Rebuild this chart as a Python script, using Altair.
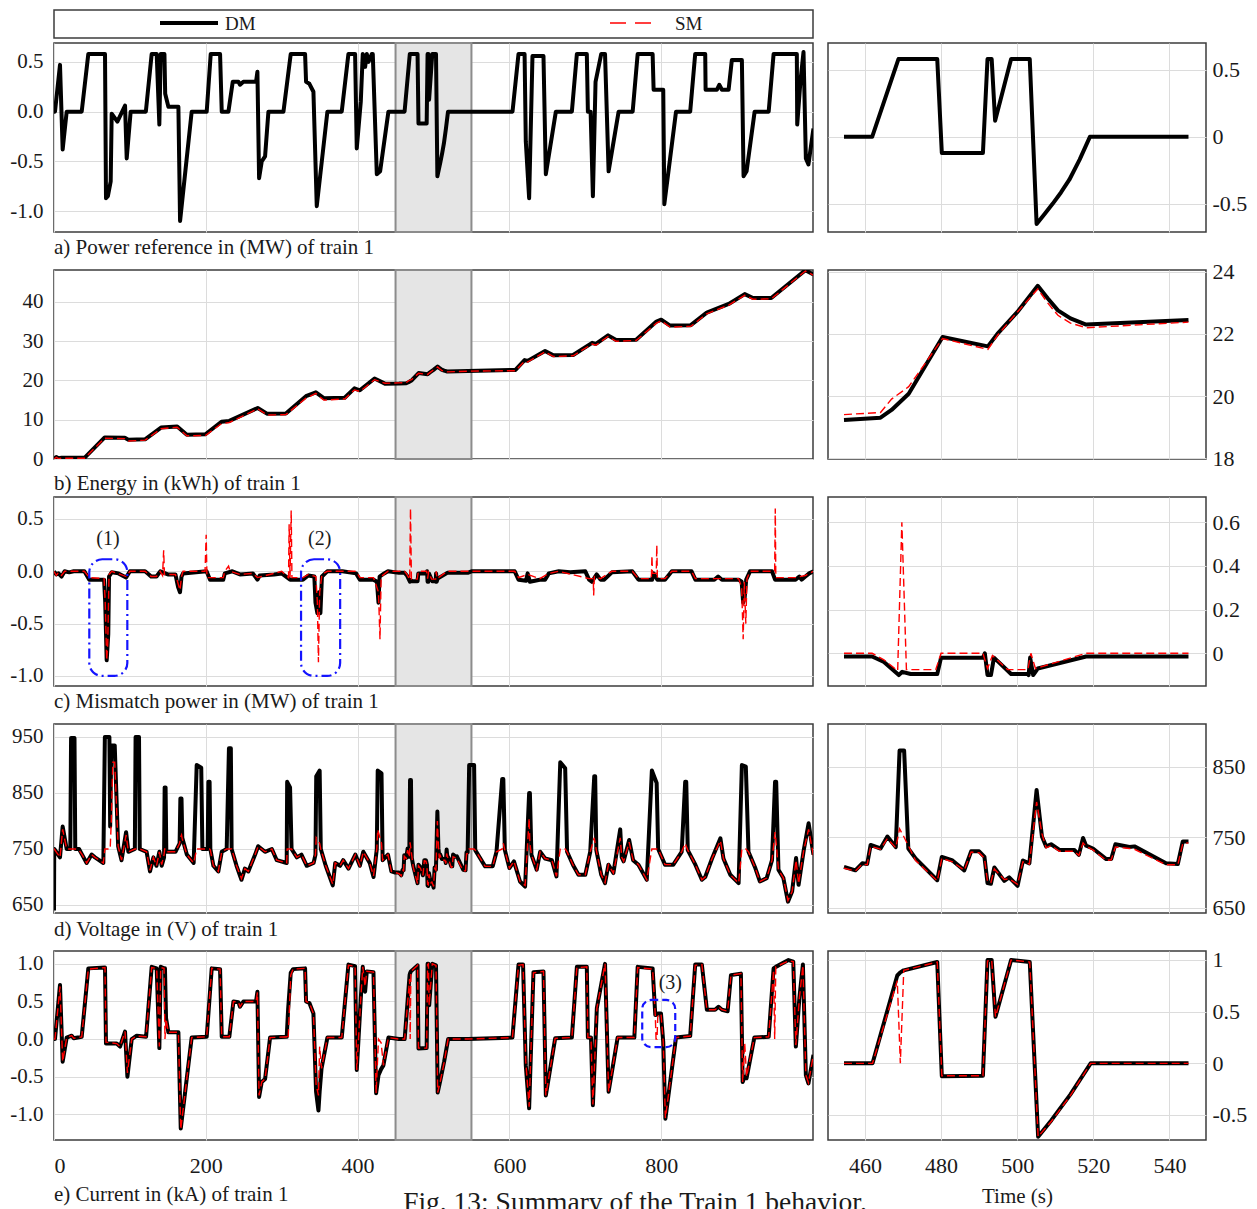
import altair as alt
import pandas as pd

FONT = "Liberation Serif"
TXT = "#1a1a1a"
GRID = "#dcdcdc"
MINUS_FIX = "replace(datum.label, '\u2212', '-')"

LW, RW, H = 759, 378, 189
XL_DOM, XR_DOM = [0, 1000], [450.3, 549.6]
XL_TICKS = [0, 200, 400, 600, 800]
XR_TICKS = [460, 480, 500, 520, 540]
RIGHT_FILTER = "datum.t >= 454 && datum.t <= 545.5"

# ---------------- grey zoom window ----------------
box_start = [450]
box_end = [550]

# ---------------- a) power reference (MW) ----------------
a_t = [0, 1.3, 7.9, 11.4, 16.7, 36.5, 45.2, 67.2, 68.5, 71,
       74.7, 76, 83.5, 93.6, 95.8, 101, 121, 128.7, 135.3, 138.8,
       140.6, 145.5, 146.5, 150.7, 163.9, 166.1, 181.4, 201.2, 206.5, 218.8,
       221, 229.8, 235.5, 243, 245.1, 249.5, 266.2, 268, 270.2, 273.7,
       278.1, 282.5, 302.3, 311.9, 330.8, 332.1, 336.5, 341.8, 346.2, 360.2,
       379.1, 387.9, 396.7, 398.9, 404.2, 406.8, 409.9, 412.1, 414.3, 418.7,
       420, 425.3, 429.7, 440.6, 454.5, 461.9, 468.8, 479, 480.2, 491,
       492.2, 493.3, 494.2, 498.4, 503.3, 505.1, 507.2, 509.3, 511.5, 513.7,
       516.4, 519.1, 545,
       604.1, 612, 620, 621.6, 626, 630.4, 644.9, 648, 661.2, 682.3,
       688.9, 702, 703.4, 707, 710, 713.5, 721, 726, 730.7, 743.9,
       762.4, 769, 788.7, 790, 802.7, 804.1, 819.5, 838.2, 844.8, 858,
       858.5, 873.3, 876.5, 880, 888.8, 893.1, 906.3, 908.5, 912.5, 923.1,
       941.6, 948.1, 978.7, 979.2, 983.4, 987.5, 990.6, 994, 1000.6]
a_dm = [0, 0, 0.47, -0.38, 0, 0, 0.58, 0.58, -0.87, -0.85,
        -0.7, -0.02, -0.1, 0.06, -0.47, 0, 0, 0.58, 0.58, -0.13,
        0.58, 0.58, 0.18, 0.05, 0.05, -1.1, 0, 0, 0.58, 0.58,
        0, 0, 0.3, 0.3, 0.27, 0.3, 0.3, 0.4, -0.67, -0.5,
        -0.45, 0, 0, 0.58, 0.58, 0.3, 0.28, 0.2, -0.95, 0,
        0, 0.58, 0.58, -0.37, 0.1, 0.58, 0.45, 0.58, 0.5, 0.58,
        0.58, -0.63, -0.6, 0, 0, 0, 0.58, 0.58, -0.12, -0.12,
        0.58, 0.58, 0.12, 0.58, 0.58, -0.65, -0.575, -0.5, -0.415, -0.32,
        -0.17, 0, 0,
        0, 0.58, 0.58, -0.3, -0.87, 0.56, 0.56, -0.63, 0, 0,
        0.58, 0.58, 0, 0, -0.85, 0.3, 0.58, 0.58, -0.6, 0,
        0, 0.58, 0.58, 0.22, 0.22, -0.93, 0, 0, 0.58, 0.58,
        0.22, 0.22, 0.27, 0.22, 0.22, 0.52, 0.52, -0.65, -0.6, 0,
        0, 0.58, 0.58, -0.13, 0.3, 0.6, -0.47, -0.53, -0.17]

# ---------------- b) energy (kWh) ----------------
b_t = [0, 3, 6, 10, 40.2, 66.8, 93.3, 98, 120, 141,
       162.3, 175, 199.5, 220.6, 231, 268.4, 281.1, 305.5, 332, 345,
       355.5, 383, 395.8, 403, 422.3, 436, 454.5, 464.1, 467, 471.5,
       480.4, 492.3, 494.8, 500, 505.4, 508, 510.7, 514, 518.1, 545,
       608, 620, 624, 647, 658, 684, 709, 714, 730, 740.6,
       767, 793.7, 800, 811.7, 839, 860, 889, 910, 921, 945,
       990, 1000.6]
b_dm = [0, 0.5, 0.2, 0.3, 0.3, 5.5, 5.4, 4.9, 5.0, 8.0,
        8.3, 6.2, 6.3, 9.5, 9.7, 13.0, 11.5, 11.6, 16.0, 17.0,
        15.5, 15.6, 18.0, 17.5, 20.5, 19.2, 19.23, 19.3, 19.55, 20.07,
        21.9, 21.6, 22.0, 22.7, 23.55, 23.15, 22.76, 22.5, 22.3, 22.45,
        22.7, 25.2, 25.0, 27.5, 26.4, 26.5, 29.6, 29.3, 31.5, 30.3,
        30.4, 35.0, 35.5, 34.0, 34.1, 37.3, 39.5, 42.0, 41.0, 41.0,
        48.1, 47.0]
b_sm = [0, 0.4, 0.1, 0.2, 0.2, 5.3, 5.2, 4.6, 4.8, 7.7,
        8.1, 5.9, 6.0, 9.0, 9.3, 12.8, 11.2, 11.3, 15.5, 16.7,
        15.0, 15.3, 17.6, 17.2, 20.2, 19.3, 19.4, 19.47, 19.9, 20.3,
        21.85, 21.5, 21.95, 22.7, 23.45, 23.0, 22.6, 22.35, 22.2, 22.38,
        22.5, 24.9, 24.7, 27.3, 26.1, 26.3, 29.3, 29.0, 31.2, 30.0,
        30.2, 34.6, 35.2, 33.6, 33.8, 37.0, 39.2, 41.7, 40.7, 40.8,
        47.9, 46.8]

# ---------------- c) mismatch power (MW) ----------------
c_dm_t = [0, 3, 6, 10, 14, 20, 26, 40, 46.5, 66,
          67.5, 69.4, 71.5, 72.5, 76, 85, 95, 100, 120, 125,
          128, 135, 140, 150, 160, 163.5, 166, 168, 170, 201,
          205.6, 223, 225, 235, 245, 262, 268, 271, 290, 300,
          311, 328, 335, 343, 344.5, 347, 349, 351, 353, 360,
          380, 398, 403, 421, 425.5, 427.5, 429, 435, 440, 454.5,
          461.9, 465, 468.9, 469.8, 472, 479, 480, 491, 491.5, 492.2,
          493.1, 493.9, 498.4, 502.8, 503.0, 503.4, 504.2, 505.4, 518.1, 545,
          550, 607, 612, 622, 624, 627, 640, 647, 652, 665,
          680, 700, 705, 708.6, 715, 720, 725, 735, 762, 770,
          788, 790, 795, 805, 814, 840, 845, 870, 875, 880,
          902, 906, 908, 910, 912, 917, 946, 950, 977, 982,
          985, 990, 995, 1000.6]
c_dm_v = [0, -0.03, -0.02, -0.05, 0, -0.01, 0, 0, -0.08, -0.08,
          -0.3, -0.85, -0.6, -0.05, -0.01, -0.02, -0.06, 0, 0, -0.03,
          -0.05, -0.05, 0, -0.03, -0.03, -0.15, -0.2, -0.05, -0.02, 0,
          -0.08, -0.08, -0.02, 0, -0.03, -0.02, -0.08, -0.04, -0.03, -0.02,
          -0.08, -0.08, -0.04, -0.05, -0.3, -0.4, -0.2, -0.4, -0.05, 0,
          0, -0.02, -0.08, -0.08, -0.1, -0.3, -0.05, -0.02, 0, -0.015,
          -0.015, -0.04, -0.1, -0.085, -0.095, -0.095, -0.02, -0.02, 0.0, -0.1,
          -0.1, -0.02, -0.095, -0.095, -0.1, -0.02, -0.1, -0.07, -0.015, -0.015,
          0, 0, -0.08, -0.09, -0.02, -0.1, -0.08, -0.08, -0.02, 0,
          -0.01, 0, -0.08, -0.1, -0.03, -0.08, -0.08, -0.01, 0, -0.08,
          -0.08, -0.02, -0.08, -0.08, 0, 0, -0.08, -0.08, -0.05, -0.08,
          -0.08, -0.1, -0.3, -0.25, -0.08, 0, 0, -0.08, -0.08, -0.05,
          -0.08, -0.05, -0.02, 0]
c_sm_t = [0, 3, 6, 10, 14, 40, 46.5, 66, 67.5, 69.4,
          70.8, 72.5, 76, 95, 100, 120, 128, 135, 140, 143,
          144.5, 145.5, 160, 166, 168, 170, 199, 200.5, 201.5, 223,
          225, 230, 232, 245, 262, 268, 290, 300, 309, 309.8,
          311, 312.5, 313.5, 328, 335, 345, 347, 348.4, 350, 353,
          360, 398, 403, 421, 427.5, 429.5, 431, 440, 454.5, 461.9,
          465, 468.6, 469.7, 470.9, 478.6, 480, 491, 492.2, 493.5, 497.5,
          502.8, 503.6, 504.8, 518.1, 545, 550, 607, 612, 624, 640,
          652, 665, 705, 710.5, 711, 712, 720, 735, 762, 770,
          787, 787.8, 788.5, 793.5, 794.2, 795, 805, 814, 840, 845,
          902, 906, 908, 909.5, 911.5, 913, 917, 946, 949.5, 950.3,
          951, 977, 990, 1000.6]
c_sm_v = [0, -0.04, -0.01, -0.04, 0, 0, -0.06, -0.07, -0.3, -0.85,
          -0.7, -0.03, 0, -0.05, 0, 0, -0.05, -0.05, 0, -0.04,
          0.2, -0.03, -0.03, -0.18, -0.05, 0, 0, 0.35, -0.06, -0.06,
          0, 0.05, 0, -0.03, -0.02, -0.06, -0.02, 0, -0.06, 0.45,
          -0.06, 0.58, -0.06, -0.06, -0.03, -0.05, -0.3, -0.87, -0.2, -0.03,
          0, 0, -0.06, -0.06, -0.2, -0.65, -0.05, 0, 0, 0,
          -0.03, -0.08, 0.6, -0.075, -0.075, 0, 0, -0.07, -0.01, -0.075,
          -0.075, 0.0, -0.07, 0, 0, 0, 0, -0.06, -0.03, -0.07,
          -0.02, 0, -0.07, -0.07, -0.23, -0.05, -0.07, 0, 0, -0.07,
          -0.07, 0.15, -0.02, -0.02, 0.25, -0.07, -0.07, 0, 0, -0.07,
          -0.07, -0.15, -0.65, -0.1, -0.5, -0.07, 0, 0, 0, 0.6,
          -0.06, -0.06, -0.04, 0]

# annotations (1), (2) in panel c
ann_c_x0 = [46.5, 325.5]
ann_c_x1 = [96.6, 377]
ann_c_y0 = [-1.0, -1.0]
ann_c_y1 = [0.115, 0.115]
ann_c_lbl = ["(1)", "(2)"]
ann_c_lx = [71, 350]
ann_c_ly = [0.31, 0.31]

# ---------------- d) voltage (V) ----------------
d_t = [0, 0.3, 7.9, 11.4, 16.7, 21.5, 22.5, 27, 28, 33,
       37, 43, 49.6, 54, 65, 67, 73, 74, 75.5, 77.5,
       80, 84.5, 89, 95, 98, 106.5, 107.5, 112, 113, 122,
       126.5, 131, 135, 138.8, 141.9, 145, 145.8, 147, 148, 160,
       165.5, 166.5, 168, 169, 175, 184, 188, 194, 195.5, 202.5,
       203.4, 205, 206, 210, 216.5, 221, 227.5, 230.5, 233, 234,
       240.5, 247, 251.5, 256, 260.5, 265, 269, 278, 287, 293.5,
       306.6, 307.2, 311, 313, 320, 326, 333, 342, 344.5, 345.5,
       350, 351.5, 358, 367.3, 370.5, 377, 381, 388, 397, 403,
       407.5, 416, 421, 425.3, 426.5, 431.5, 433, 440, 444.5, 449.4,
       454.5, 457.5, 459.3, 460.6, 461.5, 464.1, 465.9, 468.1, 469.1, 470.3,
       471.4, 473.3, 479, 480.2, 483, 486.1, 487.9, 490, 491.4, 492.2,
       493.1, 494, 496.6, 497.9, 500.1, 501.5, 503.2, 505.1, 506.5, 507.6,
       508.9, 511.1, 515, 516.2, 517.3, 518.1, 519.9, 523.4, 524.7, 525.8,
       529.5, 530.8, 539.1, 542.2, 543.5, 545, 547, 553.5, 555, 568,
       578, 583, 590.5, 592, 594, 600, 606, 614, 620.7, 626,
       627, 629, 636, 640.5, 647, 656, 662, 667, 673.5, 676,
       684, 691, 700, 706.5, 711.8, 713, 714.5, 721, 726, 730.5,
       737, 746, 748, 750.5, 757.8, 763, 770, 781, 787.7, 794,
       796, 805, 816, 827, 831.6, 833, 835, 845, 853.6, 858,
       867, 878, 882, 891, 902, 906.3, 911.5, 915, 924, 930,
       939, 946, 950, 951.5, 954.5, 961, 967, 972.5, 977.7, 981,
       987.8, 994.2, 1000.6]
d_dm = [640, 750, 735, 790, 750, 750, 948, 948, 750, 750,
        740, 725, 740, 735, 725, 950, 950, 790, 935, 935,
        935, 755, 730, 780, 745, 750, 950, 950, 750, 745,
        710, 735, 720, 745, 720, 735, 860, 860, 745, 745,
        760, 840, 840, 770, 740, 725, 900, 895, 750, 750,
        870, 870, 750, 720, 710, 745, 750, 930, 930, 750,
        720, 695, 715, 710, 725, 740, 755, 745, 750, 730,
        725, 870, 860, 750, 735, 740, 720, 725, 740, 880,
        890, 750, 720, 685, 725, 720, 730, 715, 740, 720,
        745, 725, 700, 750, 890, 885, 730, 740, 710, 708,
        708, 703, 713, 712, 739, 734, 751, 736, 873, 873,
        734, 720, 689, 722, 717, 703, 730, 730, 722, 685,
        684, 707, 688, 693, 681, 717, 713, 817, 751, 737,
        740, 732, 732, 725, 749, 738, 734, 719, 719, 740,
        736, 737, 713, 712, 744, 744, 900, 900, 748, 719,
        719, 745, 875, 875, 748, 716, 728, 692, 683, 850,
        850, 740, 713, 745, 733, 730, 701, 905, 894, 745,
        721, 704, 704, 745, 880, 880, 748, 704, 689, 722,
        707, 785, 735, 728, 766, 730, 722, 695, 890, 868,
        750, 722, 722, 745, 870, 870, 748, 722, 695, 700,
        733, 769, 733, 704, 689, 900, 897, 745, 716, 692,
        698, 730, 870, 870, 713, 698, 656, 674, 734, 686,
        748, 796, 740]
d_sm = [750, 750, 735, 785, 750, 750, 750, 750, 750, 748,
        740, 725, 740, 735, 725, 750, 750, 750, 800, 905,
        905, 755, 730, 775, 745, 750, 750, 750, 750, 745,
        712, 735, 720, 745, 722, 740, 750, 750, 745, 745,
        760, 770, 775, 768, 740, 725, 750, 750, 750, 750,
        750, 750, 748, 720, 710, 745, 750, 750, 750, 750,
        720, 697, 715, 710, 725, 740, 755, 745, 750, 730,
        725, 750, 750, 750, 735, 740, 720, 725, 740, 770,
        760, 750, 720, 687, 725, 720, 730, 715, 740, 720,
        745, 725, 702, 750, 785, 760, 730, 740, 710, 708,
        706, 702, 712, 711, 737, 733, 748, 735, 762, 750,
        738, 717, 688, 720, 715, 703, 729, 728, 720, 687,
        686, 705, 690, 691, 683, 715, 712, 800, 755, 735,
        738, 730, 730, 724, 742, 737, 732, 717, 718, 736,
        734, 733, 711, 711, 741, 742, 750, 750, 748, 719,
        719, 745, 750, 760, 748, 716, 728, 692, 685, 805,
        760, 740, 713, 745, 733, 730, 701, 750, 750, 745,
        721, 704, 704, 745, 770, 760, 748, 704, 690, 722,
        707, 770, 735, 728, 762, 730, 722, 695, 750, 750,
        750, 722, 722, 745, 760, 755, 748, 722, 695, 700,
        733, 765, 733, 704, 689, 750, 750, 745, 716, 692,
        698, 730, 780, 760, 713, 698, 658, 674, 730, 688,
        748, 785, 738]

# ---------------- e) current (kA) ----------------
e_t = [0, 1.3, 7.9, 11.4, 16.7, 23.3, 26, 36.5, 45.2, 67.2,
       68.5, 82.6, 87, 93.6, 96.7, 102.4, 109, 121.3, 128.7, 135.3,
       138.8, 140.6, 145, 146.2, 147.6, 150.7, 163.9, 167, 181.4, 201.2,
       207.8, 218.8, 221, 231, 236.4, 243, 245.1, 249.5, 266.2, 268,
       270.2, 273.7, 278.1, 284.7, 306.6, 308.5, 311.9, 315, 330.8, 332.1,
       336.5, 341.8, 345.3, 348.4, 350, 352.5, 360.2, 379.1, 387.9, 396.7,
       398.9, 404.2, 406.8, 409.9, 412.1, 420.9, 424.4, 427.5, 431, 434,
       440.6, 454.5, 462, 468.5, 469.3, 470.2, 479, 480.2, 491, 492.2,
       493.3, 494.3, 498.4, 503.3, 505.5, 509, 514, 519.3, 545, 604,
       612, 618, 621.6, 626, 631.7, 644.9, 648, 660.3, 682.3, 688.9,
       702, 703.4, 707.5, 710, 715.2, 726, 730.7, 742.6, 764.6, 769,
       788.7, 792.2, 793.2, 794.5, 795.5, 799.7, 802.7, 805.5, 819.5, 838.2,
       844.8, 853.6, 860.2, 871, 875.5, 880, 887.5, 891.9, 905, 907.3,
       910, 912.5, 922.7, 941.6, 948.1, 949.5, 951, 967.7, 974, 977.4,
       982, 986.7, 990.6, 994, 1000.6]
e_dm = [0, 0, 0.72, -0.3, 0.02, 0.045, 0.01, 0.03, 0.94, 0.95,
        -0.06, -0.06, -0.1, 0.1, -0.5, 0, 0.045, 0.03, 0.96, 0.94,
        -0.12, 0.96, 0.94, 0.94, 0.28, 0.09, 0.09, -1.19, 0.02, 0.03,
        0.94, 0.93, 0.03, 0.03, 0.5, 0.49, 0.43, 0.5, 0.5, 0.63,
        -0.77, -0.57, -0.53, 0.02, 0.03, 0.4, 0.88, 0.93, 0.94, 0.5,
        0.48, 0.34, -0.7, -0.95, -0.7, -0.39, 0.02, 0.02, 0.99, 0.97,
        -0.41, 0.54, 0.96, 0.63, 0.9, 0.89, -0.72, -0.48, -0.4, -0.35,
        0.02, 0.0, 0.0, 0.85, 0.88, 0.9, 0.98, -0.125, -0.12, 1.0,
        1.0, 0.45, 1.0, 0.98, -0.71, -0.55, -0.3, 0.0, 0.0, 0.02,
        0.99, 0.99, -0.35, -0.92, 0.89, 0.9, -0.75, 0.01, 0.02, 0.96,
        0.96, 0.02, 0.02, -0.88, 0.41, 1.0, -0.7, 0.02, 0.02, 0.96,
        0.94, 0.32, 0.32, 0.33, 0.34, 0.34, -0.04, -1.06, 0.02, 0.04,
        0.99, 0.99, 0.39, 0.39, 0.43, 0.39, 0.37, 0.85, 0.87, -0.57,
        -0.5, -0.52, 0.02, 0.03, 0.94, 0.95, 0.96, 1.05, 1.03, -0.1,
        0.54, 0.99, -0.48, -0.59, -0.21]
e_sm = [0, 0, 0.7, -0.3, 0.02, 0.045, 0.01, 0.03, 0.93, 0.95,
        -0.04, -0.06, -0.1, 0.1, -0.45, 0, 0.04, 0.03, 0.95, 0.94,
        -0.1, 0.95, 0.94, 0.0, 0.27, 0.09, 0.09, -1.2, 0.02, 0.03,
        0.94, 0.93, 0.03, 0.03, 0.5, 0.49, 0.43, 0.5, 0.5, 0.62,
        -0.75, -0.57, -0.53, 0.02, 0.03, 0.0, 0.85, 0.93, 0.94, 0.5,
        0.48, 0.34, -0.6, -0.75, -0.1, -0.39, 0.02, 0.02, 0.98, 0.97,
        -0.41, 0.54, 0.96, 0.7, 0.9, 0.89, -0.72, 0.0, -0.05, -0.35,
        0.02, 0.0, 0.0, 0.8, 0.0, 0.9, 0.98, -0.12, -0.12, 0.99,
        1.0, 0.45, 1.0, 0.98, -0.71, -0.56, -0.31, 0.0, 0.0, 0.02,
        0.98, 0.99, -0.3, -0.9, 0.88, 0.9, -0.75, 0.01, 0.02, 0.95,
        0.96, 0.02, 0.02, -0.87, 0.41, 1.0, -0.7, 0.02, 0.02, 0.95,
        0.93, 0.32, 0.0, 0.0, 0.3, 0.34, -0.04, -1.05, 0.02, 0.04,
        0.98, 0.99, 0.39, 0.39, 0.43, 0.39, 0.37, 0.85, 0.87, -0.57,
        -0.05, -0.5, 0.02, 0.03, 0.92, 0.0, 0.96, 1.04, 1.03, -0.08,
        0.54, 0.98, -0.48, -0.58, -0.21]

# annotation (3) in panel e
ann_e_x0 = [775]
ann_e_x1 = [818.5]
ann_e_y0 = [-0.107]
ann_e_y1 = [0.52]
ann_e_lbl = ["(3)"]
ann_e_lx = [812]
ann_e_ly = [0.75]

captions = ["a) Power reference in (MW) of train 1",
            "b) Energy in (kWh) of train 1",
            "c) Mismatch power in (MW) of train 1",
            "d) Voltage in (V) of train 1",
            "e) Current in (kA) of train 1"]
fig_caption = ["Fig. 13: Summary of the Train 1 behavior."]
series_names = ["DM", "SM"]

for t, v in [(a_t, a_dm), (b_t, b_dm), (b_t, b_sm), (c_dm_t, c_dm_v), (c_sm_t, c_sm_v),
             (d_t, d_dm), (d_t, d_sm), (e_t, e_dm), (e_t, e_sm)]:
    assert len(t) == len(v), (len(t), len(v))


def sdf(t, v):
    return pd.DataFrame({"t": t, "v": v})


AXC = dict(grid=True, gridColor=GRID, gridWidth=1, domain=False, ticks=False,
           labelFont=FONT, labelColor=TXT, titleFont=FONT, titleFontWeight="normal",
           titleColor=TXT)


def make_axes(xdom, xticks, xlabels, xtitle, ydom, yticks, yfmt, orient):
    def X(field):
        return alt.X(f"{field}:Q", scale=alt.Scale(domain=xdom, nice=False, zero=False),
                     axis=alt.Axis(values=xticks, labels=xlabels, format="d", title=xtitle,
                                   labelFontSize=22, labelPadding=15, titleFontSize=21,
                                   titlePadding=9, **AXC))

    def Y(field):
        return alt.Y(f"{field}:Q", scale=alt.Scale(domain=ydom, nice=False, zero=False),
                     axis=alt.Axis(values=yticks, format=yfmt, labelExpr=MINUS_FIX,
                                   orient=orient, title=None,
                                   labelFontSize=21 if orient == "left" else 22,
                                   labelPadding=11 if orient == "left" else 6, **AXC))
    return X, Y


DM_STYLE = dict(color="black", strokeWidth=4, strokeJoin="round", clip=True)
SM_STYLE = dict(color="#ff0000", strokeWidth=1.4, strokeDash=[8, 4], clip=True)


def legend_layers():
    one = pd.DataFrame({"s": [series_names[0]]})
    two = pd.DataFrame({"s": [series_names[1]]})
    frame = alt.Chart(pd.DataFrame({"k": [0]})).mark_rect(
        filled=False, color="#3c3c3c", strokeWidth=1.5).encode(
        x=alt.value(0), x2=alt.value(LW), y=alt.value(-33), y2=alt.value(-5))
    dm_line = alt.Chart(one).mark_rule(color="black", strokeWidth=4).encode(
        x=alt.value(106), x2=alt.value(164), y=alt.value(-20))
    dm_txt = alt.Chart(one).mark_text(font=FONT, fontSize=19, color=TXT, align="left",
                                      baseline="middle").encode(
        x=alt.value(171), y=alt.value(-19), text="s:N")
    sm_line = alt.Chart(two).mark_rule(color="#ff0000", strokeWidth=1.5,
                                       strokeDash=[16, 9]).encode(
        x=alt.value(556), x2=alt.value(606), y=alt.value(-20))
    sm_txt = alt.Chart(two).mark_text(font=FONT, fontSize=19, color=TXT, align="left",
                                      baseline="middle").encode(
        x=alt.value(621), y=alt.value(-19), text="s:N")
    return [frame, dm_line, dm_txt, sm_line, sm_txt]


def panel(dm, sm, side, ydom, yticks, yfmt, xlabels=False, xtitle=None,
          caption=None, extras=None, legend=False, cap_offset=4):
    if side == "left":
        X, Y = make_axes(XL_DOM, XL_TICKS, xlabels, xtitle, ydom, yticks, yfmt, "left")
        width = LW
    else:
        X, Y = make_axes(XR_DOM, XR_TICKS, xlabels, xtitle, ydom, yticks, yfmt, "right")
        width = RW
    layers = []
    if side == "left":
        layers.append(
            alt.Chart(pd.DataFrame({"x0": box_start, "x1": box_end}))
            .mark_rect(fill="#e5e5e5", stroke="#8c8c8c", strokeWidth=2)
            .encode(x=X("x0"), x2=alt.X2("x1:Q"), y=alt.value(0), y2=alt.value(H))
        )
    for df, style in [(dm, DM_STYLE), (sm, SM_STYLE)]:
        if df is None:
            continue
        c = alt.Chart(df).mark_line(**style).encode(x=X("t"), y=Y("v"))
        if side == "right":
            c = c.transform_filter(RIGHT_FILTER)
        layers.append(c)
    if extras is not None:
        layers.extend(extras(X, Y))
    if legend:
        layers.extend(legend_layers())
    ch = alt.layer(*layers).properties(width=width, height=H)
    if caption is not None:
        ch = ch.properties(title=alt.TitleParams(
            caption, orient="bottom", anchor="start", frame="group", font=FONT,
            fontSize=21, fontWeight="normal", color=TXT, offset=cap_offset))
    return ch


def extras_c(X, Y):
    rect = alt.Chart(pd.DataFrame({"ax0": ann_c_x0, "ax1": ann_c_x1,
                                   "ay0": ann_c_y0, "ay1": ann_c_y1})).mark_rect(
        filled=False, color="#1414ff", strokeWidth=2.2, strokeDash=[10, 4, 2, 4],
        cornerRadius=13).encode(x=X("ax0"), x2=alt.X2("ax1:Q"), y=Y("ay0"), y2=alt.Y2("ay1:Q"))
    txt = alt.Chart(pd.DataFrame({"lx": ann_c_lx, "ly": ann_c_ly, "lbl": ann_c_lbl})).mark_text(
        font=FONT, fontSize=20, color=TXT).encode(x=X("lx"), y=Y("ly"), text="lbl:N")
    return [rect, txt]


def extras_e(X, Y):
    rect = alt.Chart(pd.DataFrame({"ax0": ann_e_x0, "ax1": ann_e_x1,
                                   "ay0": ann_e_y0, "ay1": ann_e_y1})).mark_rect(
        filled=False, color="#1414ff", strokeWidth=2.2, strokeDash=[7, 4],
        cornerRadius=9).encode(x=X("ax0"), x2=alt.X2("ax1:Q"), y=Y("ay0"), y2=alt.Y2("ay1:Q"))
    txt = alt.Chart(pd.DataFrame({"lx": ann_e_lx, "ly": ann_e_ly, "lbl": ann_e_lbl})).mark_text(
        font=FONT, fontSize=20, color=TXT).encode(x=X("lx"), y=Y("ly"), text="lbl:N")
    return [rect, txt]


def extras_e_right(X, Y):
    # figure caption, centred under the whole figure (placed from the right-hand panel)
    cap = alt.Chart(pd.DataFrame({"txt": fig_caption})).mark_text(
        font=FONT, fontSize=27.5, color=TXT, align="center", baseline="alphabetic").encode(
        x=alt.value(-193), y=alt.value(260), text="txt:N")
    return [cap]


a_l = panel(sdf(a_t, a_dm), None, "left", [-1.21, 0.69], [-1, -0.5, 0, 0.5], ".1f",
            caption=captions[0], legend=True)
a_r = panel(sdf(a_t, a_dm), None, "right", [-0.71, 0.70], [-0.5, 0, 0.5], "~g")

b_l = panel(sdf(b_t, b_dm), sdf(b_t, b_sm), "left", [0, 48.15], [0, 10, 20, 30, 40], "d",
            caption=captions[1])
b_r = panel(sdf(b_t, b_dm), sdf(b_t, b_sm), "right", [17.97, 24.06], [18, 20, 22, 24], "d")

c_l = panel(sdf(c_dm_t, c_dm_v), sdf(c_sm_t, c_sm_v), "left", [-1.096, 0.71],
            [-1, -0.5, 0, 0.5], ".1f", caption=captions[2], extras=extras_c)
c_r = panel(sdf(c_dm_t, c_dm_v), sdf(c_sm_t, c_sm_v), "right", [-0.15, 0.716],
            [0, 0.2, 0.4, 0.6], "~g")

d_l = panel(sdf(d_t, d_dm), sdf(d_t, d_sm), "left", [635.7, 973.2], [650, 750, 850, 950], "d",
            caption=captions[3])
d_r = panel(sdf(d_t, d_dm), sdf(d_t, d_sm), "right", [642.5, 910.6], [650, 750, 850], "d")

e_l = panel(sdf(e_t, e_dm), sdf(e_t, e_sm), "left", [-1.342, 1.171],
            [-1, -0.5, 0, 0.5, 1], ".1f", xlabels=True, caption=captions[4], extras=extras_e,
            cap_offset=8)
e_r = panel(sdf(e_t, e_dm), sdf(e_t, e_sm), "right", [-0.742, 1.087],
            [-0.5, 0, 0.5, 1], "~g", xlabels=True, xtitle="Time (s)", extras=extras_e_right)

chart = alt.concat(
    a_l, a_r, b_l, b_r, c_l, c_r, d_l, d_r, e_l, e_r,
    columns=2, spacing={"row": 38, "column": 15}, bounds="flush"
).properties(
    padding={"left": 1, "top": 0, "right": 0, "bottom": 0}
).configure_view(stroke="#3c3c3c", strokeWidth=1.5)

chart.save("out.html", embed_options={"renderer": "svg", "actions": False})
